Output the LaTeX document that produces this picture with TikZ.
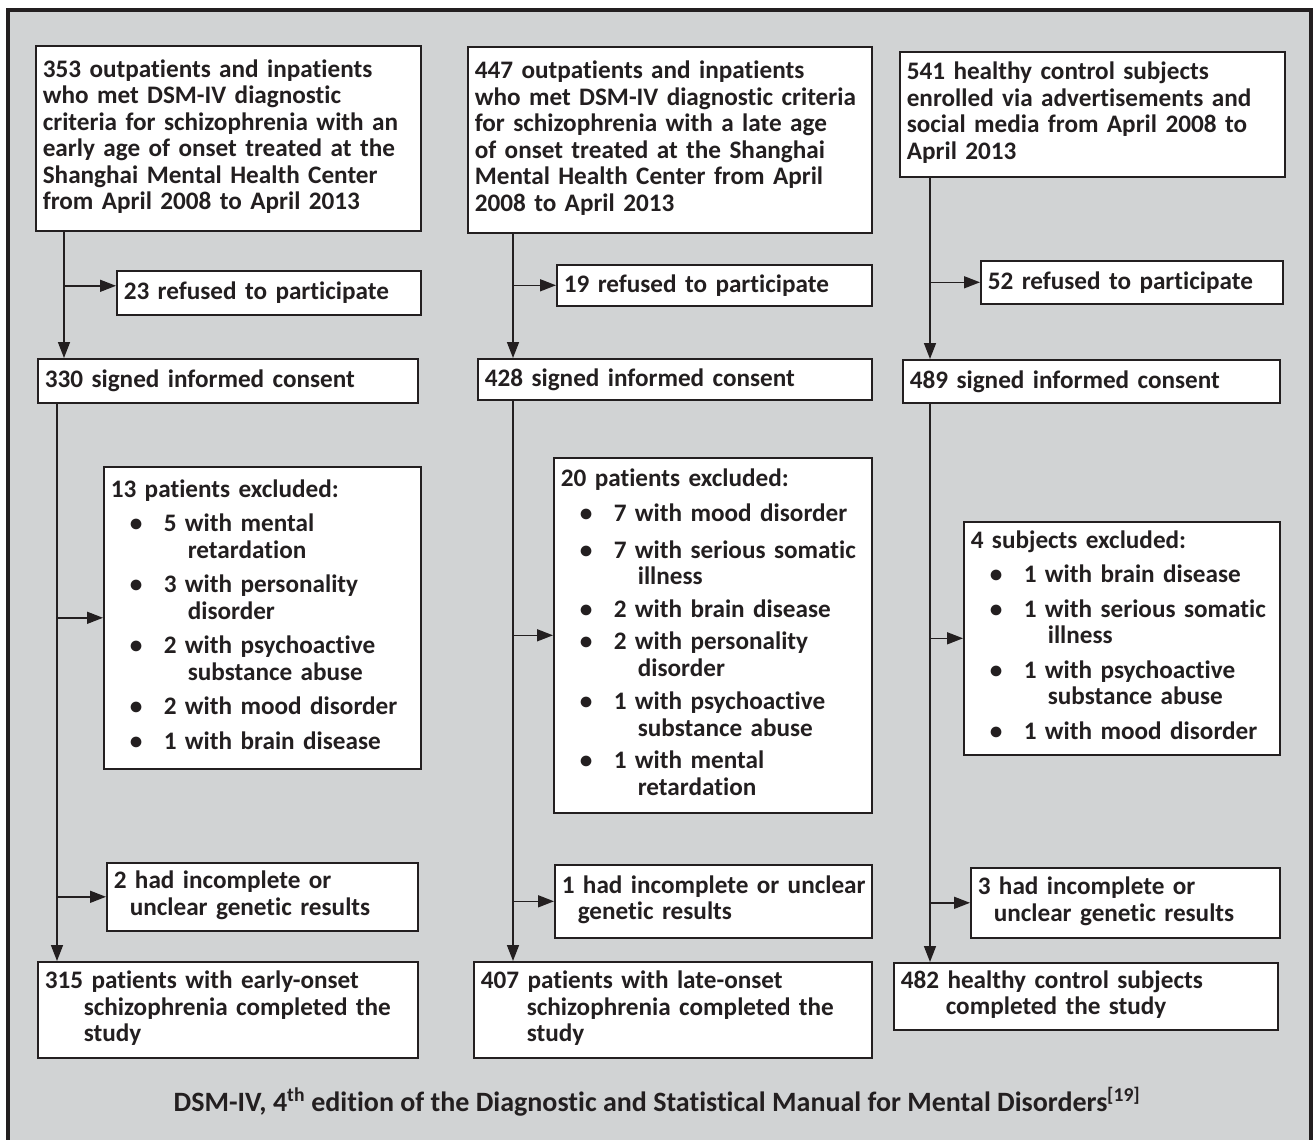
\documentclass[tikz,border=0pt]{standalone}
\usepackage{fontspec}
\setmainfont{Carlito}[Ligatures=NoCommon]
\usepackage{xcolor}
\usepackage{tikz}
\usetikzlibrary{arrows.meta,positioning}
\definecolor{ink}{HTML}{231F20}
\definecolor{panel}{HTML}{D1D3D4}
\newcommand{\rows}[1]{\begin{tabular}{@{}l@{}}#1\end{tabular}}

\begin{document}
\begin{tikzpicture}[x=1pt, y=-1pt,
    box/.style 2 args={rectangle, draw=ink, line width=1.6pt, fill=white, anchor=north west, inner xsep=7pt, inner ysep=0pt, text width=#1, minimum height=#2, align=left, text=ink, font=\fontsize{25.2}{26.5}\selectfont\bfseries},
    note/.style={anchor=base, inner sep=0pt, text=ink, font=\fontsize{28}{30}\selectfont\bfseries},
    arrow/.style={draw=ink, line width=1.6pt, -{Triangle[length=16pt, width=12pt]}},
    frame/.style={draw=ink, line width=4pt, fill=panel}
]
    \useasboundingbox (0,0) rectangle (1315,1140);
    \clip (0,0) rectangle (1315,1140);
    \fill[white] (0,0) rectangle (1315,1140);
    \draw[frame] (8,10) rectangle (1311,1170);

    % Early onset column
    \node[box={371pt}{185pt}] (eo_in) at (35,45) {\rows{353 outpatients and inpatients\\who met DSM-IV diagnostic\\criteria for schizophrenia with an\\early age of onset treated at the\\Shanghai Mental Health Center\\from April 2008 to April 2013}};
    \node[box={290pt}{44pt}] (eo_ref) at (116,270) {23 refused to participate};
    \node[box={366pt}{44pt}] (eo_con) at (37,358) {330 signed informed consent};
    \node[box={303pt}{302pt}] (eo_exc) at (103,466) {\rows{13 patients excluded:\\[8pt]
        \hspace*{19pt}\makebox[34pt][l]{\textbullet}5 with mental\\\hspace*{77pt}retardation\\[8pt]
        \hspace*{19pt}\makebox[34pt][l]{\textbullet}3 with personality\\\hspace*{77pt}disorder\\[8pt]
        \hspace*{19pt}\makebox[34pt][l]{\textbullet}2 with psychoactive\\\hspace*{77pt}substance abuse\\[8pt]
        \hspace*{19pt}\makebox[34pt][l]{\textbullet}2 with mood disorder\\[8pt]
        \hspace*{19pt}\makebox[34pt][l]{\textbullet}1 with brain disease}};
    \node[box={297pt}{68pt}] (eo_gen) at (106,862) {\rows{2 had incomplete or\\\hspace*{16pt}unclear genetic results}};
    \node[box={366pt}{96pt}] (eo_out) at (37,961) {\rows{315 patients with early-onset\\\hspace*{39pt}schizophrenia completed the\\\hspace*{39pt}study}};

    % Late onset column
    \node[box={390pt}{186pt}] (lo_in) at (467,46) {\rows{447 outpatients and inpatients\\who met DSM-IV diagnostic criteria\\for schizophrenia with a late age\\of onset treated at the Shanghai\\Mental Health Center from April\\2008 to April 2013}};
    \node[box={301pt}{41pt}] (lo_ref) at (556,264) {19 refused to participate};
    \node[box={380pt}{41pt}] (lo_con) at (477,358) {428 signed informed consent};
    \node[box={304pt}{355pt}] (lo_exc) at (553,457) {\rows{20 patients excluded:\\[9pt]
        \hspace*{19pt}\makebox[34pt][l]{\textbullet}7 with mood disorder\\[10pt]
        \hspace*{19pt}\makebox[34pt][l]{\textbullet}7 with serious somatic\\\hspace*{77pt}illness\\[6pt]
        \hspace*{19pt}\makebox[34pt][l]{\textbullet}2 with brain disease\\[6pt]
        \hspace*{19pt}\makebox[34pt][l]{\textbullet}2 with personality\\\hspace*{77pt}disorder\\[7pt]
        \hspace*{19pt}\makebox[34pt][l]{\textbullet}1 with psychoactive\\\hspace*{77pt}substance abuse\\[6pt]
        \hspace*{19pt}\makebox[34pt][l]{\textbullet}1 with mental\\\hspace*{77pt}retardation}};
    \node[box={303pt}{73pt}] (lo_gen) at (554,864) {\rows{1 had incomplete or unclear\\\hspace*{16pt}genetic results}};
    \node[box={384pt}{96pt}] (lo_out) at (473,961) {\rows{407 patients with late-onset\\\hspace*{46pt}schizophrenia completed the\\\hspace*{46pt}study}};

    % Healthy control column
    \node[box={371pt}{125pt}] (hc_in) at (899,51) {\rows{541 healthy control subjects\\enrolled via advertisements and\\social media from April 2008 to\\April 2013}};
    \node[box={288pt}{43pt}] (hc_ref) at (980,260) {52 refused to participate};
    \node[box={363pt}{43pt}] (hc_con) at (902,359) {489 signed informed consent};
    \node[box={302pt}{233pt}] (hc_exc) at (963,521) {\rows{4 subjects excluded:\\[8pt]
        \hspace*{19pt}\makebox[34pt][l]{\textbullet}1 with brain disease\\[8pt]
        \hspace*{19pt}\makebox[34pt][l]{\textbullet}1 with serious somatic\\\hspace*{77pt}illness\\[8pt]
        \hspace*{19pt}\makebox[34pt][l]{\textbullet}1 with psychoactive\\\hspace*{77pt}substance abuse\\[8pt]
        \hspace*{19pt}\makebox[34pt][l]{\textbullet}1 with mood disorder}};
    \node[box={295pt}{70pt}] (hc_gen) at (970,867) {\rows{3 had incomplete or\\\hspace*{16pt}unclear genetic results}};
    \node[box={370pt}{67pt}] (hc_out) at (893,962) {\rows{482 healthy control subjects\\\hspace*{45pt}completed the study}};

    \node[note] (foot) at (657,1111) {DSM-IV, 4\textsuperscript{th} edition of the Diagnostic and Statistical Manual for Mental Disorders\textsuperscript{[19]}};

    % Trunks and side arrows
    \coordinate (eo_t) at ([xshift=29pt]eo_in.south west);
    \coordinate (eo_b) at ([xshift=20pt]eo_con.south west);
    \coordinate (eo_rp) at ([yshift=7pt]eo_ref.west);
    \draw[arrow] (eo_t) -- (eo_t |- eo_con.north);
    \draw[arrow] (eo_t |- eo_rp) -- (eo_rp);
    \draw[arrow] (eo_b) -- (eo_b |- eo_out.north);
    \draw[arrow] (eo_b |- eo_exc.west) -- (eo_exc.west);
    \draw[arrow] (eo_b |- eo_gen.west) -- (eo_gen.west);

    \coordinate (lo_t) at ([xshift=46pt]lo_in.south west);
    \coordinate (lo_b) at ([xshift=36pt]lo_con.south west);
    \draw[arrow] (lo_t) -- (lo_t |- lo_con.north);
    \draw[arrow] (lo_t |- lo_ref.west) -- (lo_ref.west);
    \draw[arrow] (lo_b) -- (lo_b |- lo_out.north);
    \draw[arrow] (lo_b |- lo_exc.west) -- (lo_exc.west);
    \draw[arrow] (lo_b |- lo_gen.west) -- (lo_gen.west);

    \coordinate (hc_t) at ([xshift=31pt]hc_in.south west);
    \coordinate (hc_b) at ([xshift=28pt]hc_con.south west);
    \draw[arrow] (hc_t) -- (hc_t |- hc_con.north);
    \draw[arrow] (hc_t |- hc_ref.west) -- (hc_ref.west);
    \draw[arrow] (hc_b) -- (hc_b |- hc_out.north);
    \draw[arrow] (hc_b |- hc_exc.west) -- (hc_exc.west);
    \draw[arrow] (hc_b |- hc_gen.west) -- (hc_gen.west);

\end{tikzpicture}
\end{document}
